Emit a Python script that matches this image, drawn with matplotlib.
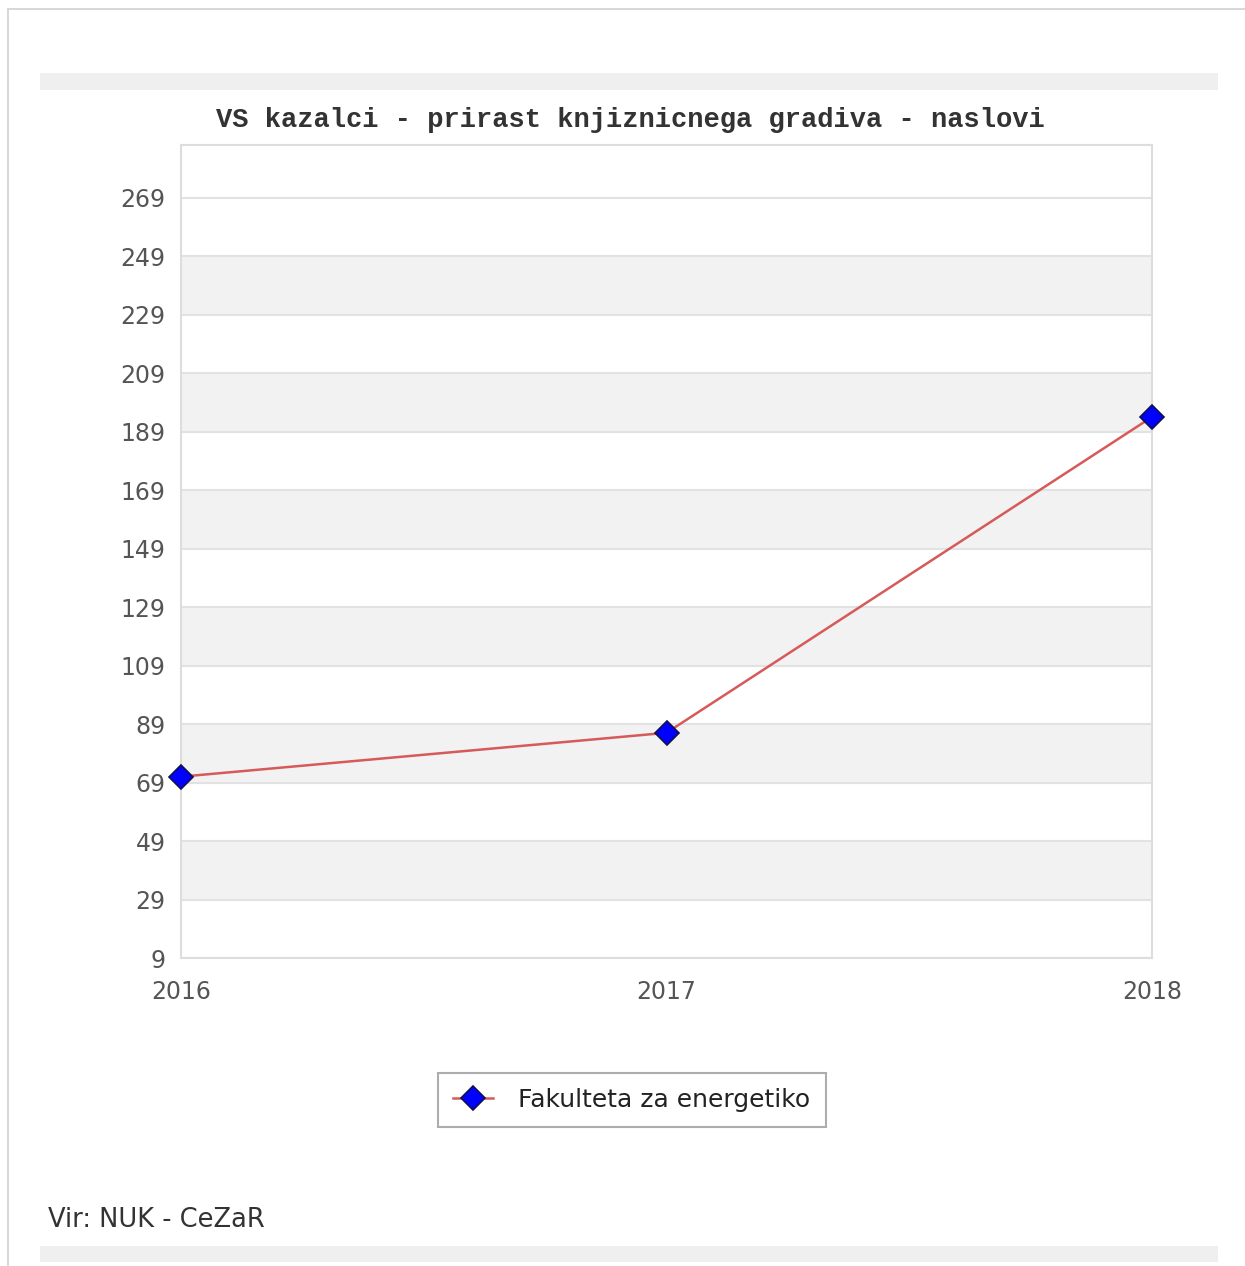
import matplotlib.pyplot as plt
from matplotlib.patches import Rectangle

# data
years = [2016, 2017, 2018]
naslovi = [71, 86, 194]
series_name = "Fakulteta za energetiko"
y_ticks = [9, 29, 49, 69, 89, 109, 129, 149, 169, 189, 209, 229, 249, 269]

plt.rcParams["font.family"] = ["DejaVu Sans"]

W, H = 1245, 1266
fig = plt.figure(figsize=(W / 100, H / 100), dpi=100)
fig.patch.set_facecolor("white")


def px_rect(x0, y0, x1, y1, **kw):
    # rectangle in pixel coordinates (origin top-left)
    fig.patches.append(Rectangle((x0 / W, 1 - y1 / H), (x1 - x0) / W, (y1 - y0) / H,
                                 transform=fig.transFigure, **kw))


# outer page frame and grey bands of the panel
px_rect(7, 8, 1245, 10, facecolor="#d8d8d8", edgecolor="none")
px_rect(7, 8, 9, 1266, facecolor="#d8d8d8", edgecolor="none")
px_rect(40, 73, 1218, 90, facecolor="#efefef", edgecolor="none")
px_rect(40, 1246, 1218, 1262, facecolor="#efefef", edgecolor="none")

ax = fig.add_axes([181 / W, 1 - 958 / H, (1152 - 181) / W, (958 - 145) / H])
ax.set_xlim(2016, 2018)
ax.set_ylim(9, 287)

# alternating grey bands
for lo in range(29, 249, 40):
    ax.axhspan(lo, lo + 20, color="#f2f2f2", zorder=0, lw=0)
ax.set_yticks(y_ticks)
ax.set_xticks(years)
ax.yaxis.grid(True, color="#e2e2e2", linewidth=1.5)
ax.set_axisbelow(True)
for s in ax.spines.values():
    s.set_color("#dddddd")
    s.set_linewidth(1.5)
ax.tick_params(length=0, labelsize=17, labelcolor="#555555")
ax.tick_params(axis="y", pad=11)
ax.tick_params(axis="x", pad=16)

ax.plot(years, naslovi, color="#d65a5a", linewidth=1.8, zorder=4, clip_on=False)
ax.plot(years, naslovi, linestyle="none",
        marker="D", markersize=12, markerfacecolor="#0000ff",
        markeredgecolor="#101050", markeredgewidth=1.2, clip_on=False, zorder=5)

# legend entry: line with marker
ax.plot([], [], color="#d65a5a", linewidth=1.8, marker="D", markersize=12,
        markerfacecolor="#0000ff", markeredgecolor="#101050",
        markeredgewidth=1.2, label=series_name)

fig.text(630 / W, 1 - 120 / H, "VS kazalci - prirast knjiznicnega gradiva - naslovi",
         family="Liberation Mono", weight="bold", fontsize=19.5, color="#333333",
         ha="center", va="center")

leg = fig.legend(loc="center", bbox_to_anchor=(632 / W, 1 - 1100 / H),
                 fontsize=18, frameon=True, fancybox=False, handlelength=1.6,
                 borderpad=0.6, handletextpad=1.0)
leg.get_frame().set_edgecolor("#999999")
leg.get_frame().set_linewidth(1.5)
for t in leg.get_texts():
    t.set_color("#222222")

fig.text(48 / W, 1 - 1220 / H, "Vir: NUK - CeZaR", fontsize=18.5, color="#333333",
         ha="left", va="center")

fig.savefig("out.png", dpi=100)
